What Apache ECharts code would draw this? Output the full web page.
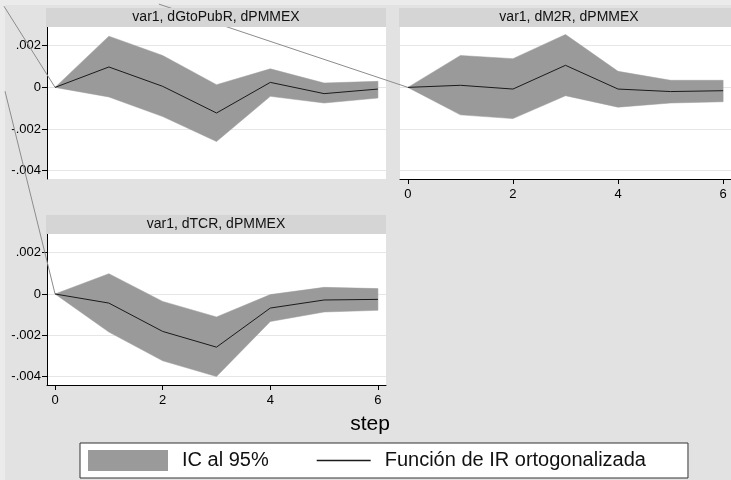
<!DOCTYPE html>
<html><head><meta charset="utf-8">
<script src="https://cdn.jsdelivr.net/npm/echarts@6/dist/echarts.min.js"></script>
<style>
html,body{margin:0;padding:0;background:#e3e3e3;}
#main{width:731px;height:480px;
background:linear-gradient(#ebebeb,#ebebeb) top left/100% 5px no-repeat,linear-gradient(#ebebeb,#ebebeb) top left/5px 100% no-repeat,#e2e2e2;}
</style></head><body><div id="main"></div>
<script>
// ---- data ----
const steps = [0, 1, 2, 3, 4, 5, 6];
const panelTitles = ['var1, dGtoPubR, dPMMEX', 'var1, dM2R, dPMMEX', 'var1, dTCR, dPMMEX'];
const irfGto   = [0, 0.00098, 0.00005, -0.00123, 0.00024, -0.00030, -0.00008];
const upperGto = [0, 0.00246, 0.00153, 0.00013, 0.00089, 0.00021, 0.00029];
const lowerGto = [0, -0.00046, -0.00140, -0.00260, -0.00043, -0.00075, -0.00051];
const irfM2    = [0, 0.00010, -0.00008, 0.00106, -0.00008, -0.00020, -0.00016];
const upperM2  = [0, 0.00153, 0.00138, 0.00254, 0.00077, 0.00034, 0.00034];
const lowerM2  = [0, -0.00132, -0.00150, -0.00040, -0.00095, -0.00075, -0.00069];
const irfTCR   = [0, -0.00044, -0.00181, -0.00257, -0.00068, -0.00029, -0.00026];
const upperTCR = [0, 0.00098, -0.00036, -0.00111, -0.00003, 0.00032, 0.00026];
const lowerTCR = [0, -0.00184, -0.00323, -0.00399, -0.00133, -0.00087, -0.00079];
const yTicks = [-0.004, -0.002, 0, 0.002];
const xTicks = [0, 2, 4, 6];
const legendNames = ['IC al 95%', 'Función de IR ortogonalizada'];
const xTitle = 'step';
// stray connector lines seen in the original export (start point in data units, end at origin)
const strayStart = [[-0.95, 0.0039], [-4.74, 0.0040], [-0.93, 0.0098]];
const strayEnd = [0, 0];

// ---- layout / style ----
const FONT = '"Liberation Sans", Arial, Helvetica, sans-serif';
const BAND = '#9a9a9a';
const layout = [
  {left: 47, top: 27, width: 339, height: 152, showX: false, showY: true},
  {left: 400, top: 27, width: 339, height: 152, showX: true, showY: false},
  {left: 47, top: 234, width: 339, height: 151, showX: true, showY: true}
];
const panels = [
  {irf: irfGto, up: upperGto, lo: lowerGto},
  {irf: irfM2, up: upperM2, lo: lowerM2},
  {irf: irfTCR, up: upperTCR, lo: lowerTCR}
];
const fmtY = v => v === 0 ? '0' : (v < 0 ? '-' : '') + String(+Math.abs(v).toFixed(4)).replace(/^0/, '');

const grid = [], xAxis = [], yAxis = [], series = [], graphic = [];
layout.forEach((L, i) => {
  grid.push({left: L.left, top: L.top, width: L.width, height: L.height,
    show: true, backgroundColor: '#ffffff', borderWidth: 0, containLabel: false});
  xAxis.push({type: 'value', gridIndex: i, min: -0.15, max: 6.15, show: L.showX,
    axisLine: {show: true, onZero: false, lineStyle: {color: '#000', width: 1}},
    axisTick: {show: true, length: 5, lineStyle: {color: '#000'}, customValues: xTicks},
    axisLabel: {show: true, fontSize: 13, color: '#000', fontFamily: FONT, margin: 9, customValues: xTicks},
    splitLine: {show: false}});
  yAxis.push({type: 'value', gridIndex: i, min: -0.0044, max: 0.0029,
    axisLine: {show: L.showY, onZero: false, lineStyle: {color: '#000', width: 1}},
    axisTick: {show: L.showY, length: 5, lineStyle: {color: '#000'}, customValues: yTicks},
    axisLabel: {show: L.showY, fontSize: 13, color: '#000', fontFamily: FONT, margin: 6,
      customValues: yTicks, formatter: fmtY},
    splitLine: {show: true, lineStyle: {color: '#e6e6e6', width: 1}}});
  const P = panels[i];
  series.push({
    type: 'custom', name: legendNames[0], xAxisIndex: i, yAxisIndex: i, silent: true,
    itemStyle: {color: BAND}, z: 2,
    data: steps.map((s, k) => [s, P.lo[k], P.up[k]]),
    renderItem: function (params, api) {
      if (params.dataIndex !== 0) return;
      const pts = [];
      steps.forEach((s, k) => pts.push(api.coord([s, P.up[k]])));
      for (let k = steps.length - 1; k >= 0; k--) pts.push(api.coord([steps[k], P.lo[k]]));
      return {type: 'polygon', shape: {points: pts}, style: {fill: BAND, stroke: BAND, lineWidth: 0.5}};
    }
  });
  series.push({
    type: 'line', name: legendNames[1], xAxisIndex: i, yAxisIndex: i, z: 4,
    data: steps.map((s, k) => [s, P.irf[k]]), symbol: 'none', silent: true,
    lineStyle: {color: '#1a1a1a', width: 1}, itemStyle: {color: '#1a1a1a'}
  });
  series.push({
    type: 'custom', name: 'stray' + i, xAxisIndex: i, yAxisIndex: i, z: 3, clip: false, silent: true,
    data: [strayStart[i]],
    renderItem: function (params, api) {
      const a = api.coord(strayStart[i]);
      const b = api.coord(strayEnd);
      return {type: 'line', shape: {x1: a[0], y1: a[1], x2: b[0], y2: b[1]},
        style: {stroke: '#8c8c8c', lineWidth: 1}};
    }
  });
  graphic.push({
    type: 'rect', z: 100, silent: true,
    shape: {x: L.left - 1, y: L.top - 19, width: L.width + 1, height: 19},
    style: {fill: '#d5d5d5'},
    textContent: {style: {text: panelTitles[i], fontSize: 14, fontFamily: FONT, fill: '#111'}, z: 101},
    textConfig: {position: 'inside'}
  });
});
graphic.push({type: 'text', x: 370, y: 424, z: 100, silent: true,
  style: {text: xTitle, fontSize: 21, fontFamily: FONT, fill: '#000', textAlign: 'center', textVerticalAlign: 'middle'}});

const chart = echarts.init(document.getElementById('main'), null, {renderer: 'canvas'});
chart.setOption({
  animation: false,
  backgroundColor: 'transparent',
  grid, xAxis, yAxis, series, graphic,
  legend: {
    left: 80, top: 443, orient: 'horizontal',
    backgroundColor: '#ffffff', borderColor: '#333', borderWidth: 1, borderRadius: 0,
    padding: [7, 42, 7, 8], itemWidth: 80, itemHeight: 21, itemGap: 22,
    selectedMode: false,
    textStyle: {fontSize: 20, fontFamily: FONT, color: '#111', padding: [0, 0, 0, 9]},
    data: [
      {name: legendNames[0], icon: 'rect', itemStyle: {color: BAND}},
      {name: legendNames[1],
       icon: 'path://M0,0h0.01v0.01h-0.01z M80,21h0.01v0.01h-0.01z M26,9.8h54v1.5h-54z',
       itemStyle: {color: '#1a1a1a'}}
    ]
  }
});
</script></body></html>
